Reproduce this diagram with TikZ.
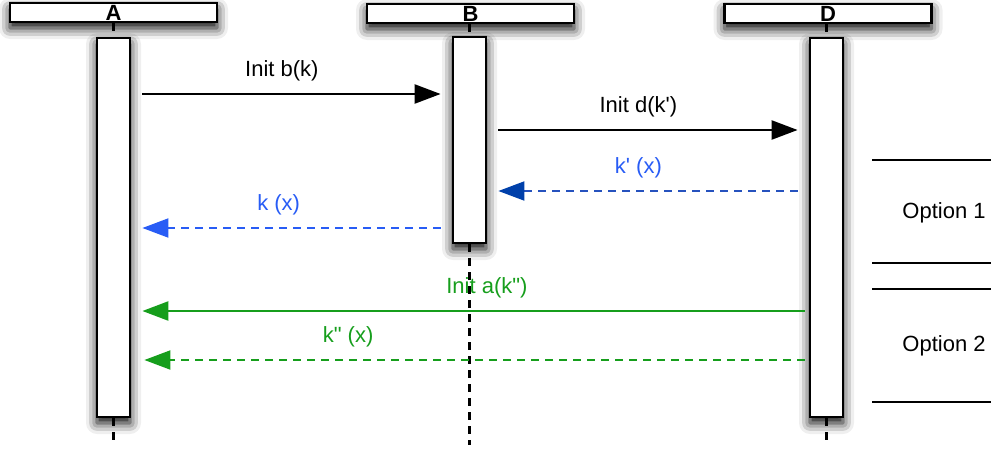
\documentclass[tikz,border=0pt]{standalone}
\usepackage{fontspec}
\setmainfont{Liberation Sans}
\usetikzlibrary{arrows.meta,shadows.blur,positioning}

\definecolor{callblue}{RGB}{40,92,245}
\definecolor{replyblue}{RGB}{38,82,190}
\definecolor{tipblue}{RGB}{0,64,170}
\definecolor{callgreen}{RGB}{22,158,28}

\begin{document}
\begin{tikzpicture}[x=1pt, y=-1pt,
    font=\fontsize{22}{25}\selectfont,
    shade/.style={blur shadow={shadow xshift=0pt, shadow yshift=-6pt, shadow blur radius=11pt, shadow opacity=100}},
    actor/.style={rectangle, draw, fill=white, line width=2.8pt, minimum width=207pt, minimum height=19pt, inner sep=0pt, font=\fontsize{22}{20}\selectfont\bfseries, shade},
    bar/.style={rectangle, draw, fill=white, line width=2.8pt, minimum width=33pt, inner sep=0pt, shade},
    life/.style={line width=2.4pt, dash pattern=on 8pt off 6pt},
    call/.style={line width=2.4pt, -{Triangle[length=26pt,width=19pt]}, shorten <=11pt, shorten >=11pt},
    lbl/.style={above=12pt, inner sep=0pt}
]
    \useasboundingbox (0,0) rectangle (991,450);

    % Actors
    \node[actor] (hA) at (113.5,12.5) {A};
    \node[actor] (hB) at (470.5,13.5) {B};
    \node[actor] (hD) at (828,13.5) {D};

    % Activation bars
    \node[bar, minimum height=379pt] (barA) at (113.5,227.5) {};
    \node[bar, minimum height=206pt] (barB) at (469.5,140) {};
    \node[bar, minimum height=379pt] (barD) at (826.5,227.5) {};

    \coordinate (endA) at (113.5,445);
    \coordinate (endB) at (469.5,445);
    \coordinate (endD) at (826.5,445);

    % Lifelines
    \draw[life] (hA.south -| barA) -- (barA.north);
    \draw[life] (barA.south) -- (endA);
    \draw[life] (hB.south -| barB) -- (barB.north);
    \draw[life] (barB.south) -- (endB);
    \draw[life] (hD.south -| barD) -- (barD.north);
    \draw[life] (barD.south) -- (endD);

    % Message rows
    \coordinate (m1) at (0,94);
    \coordinate (m2) at (0,130);
    \coordinate (m3) at (0,191);
    \coordinate (m4) at (0,228);
    \coordinate (m5) at (0,311);
    \coordinate (m6) at (0,360);

    % Messages
    \draw[call] (barA.east |- m1) -- node[lbl, pos=0.47] {Init b(k)} (barB.west |- m1);
    \draw[call] (barB.east |- m2) -- node[lbl, pos=0.47] {Init d(k\textquotesingle)} (barD.west |- m2);
    \draw[call, replyblue, dash pattern=on 8pt off 6pt, line width=2pt,
          -{Triangle[length=26pt,width=19pt,color=tipblue]}]
        (barD.west |- m3) -- node[lbl, callblue, pos=0.53] {k\textquotesingle{} (x)} (barB.east |- m3);
    \draw[call, callblue, dash pattern=on 8pt off 6pt, line width=2pt]
        (barB.west |- m4) -- node[lbl, pos=0.54] {k (x)} (barA.east |- m4);
    \draw[call, callgreen, shorten <=4pt]
        (barD.west |- m5) -- node[lbl, pos=0.475] {Init a(k\textquotedbl)} (barA.east |- m5);
    \draw[call, callgreen, dash pattern=on 8pt off 6pt, line width=2pt, shorten <=4pt, shorten >=13pt]
        (barD.west |- m6) -- node[lbl, pos=0.68] {k\textquotedbl{} (x)} (barA.east |- m6);

    % Options
    \foreach \y in {160,263,289,402}
        \draw[line width=2pt] (872,\y) -- (991,\y);
    \node (opt1) at (944,213) {Option 1};
    \node (opt2) at (944,346) {Option 2};

\end{tikzpicture}
\end{document}
